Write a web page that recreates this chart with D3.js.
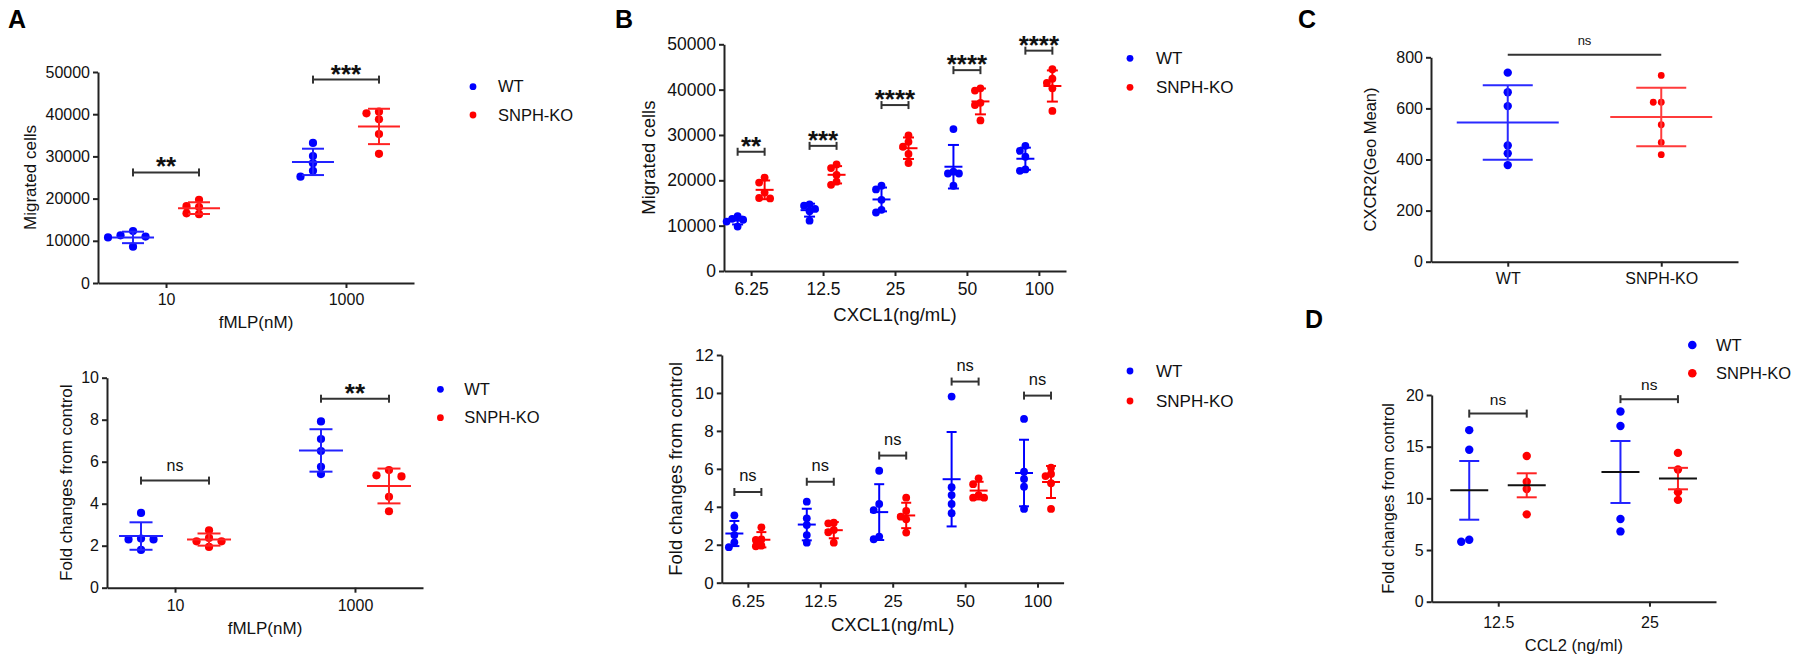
<!DOCTYPE html>
<html><head><meta charset="utf-8">
<script src="https://cdn.jsdelivr.net/npm/d3@7"></script>
<style>body{margin:0;background:#fff}svg{display:block}</style>
</head><body><svg id="c" width="1800" height="664"></svg>
<script>
// ---------------- DATA ----------------
const seriesNames = ["WT", "SNPH-KO"];

// Panel A (fMLP)
const fmlpDoses = ["10", "1000"];
const aMigWT = [[12300, 11300, 10800, 11000, 8600], [33200, 30100, 28400, 26600, 25200]];
const aMigKO = [[19700, 18000, 18200, 16300, 16500], [40600, 40200, 38800, 35300, 30600]];
const aMigSig = ["**", "***"];
const aMigSigY = [26200, 48200];
const aFoldWT = [[3.56, 2.34, 2.30, 2.30, 1.80], [7.92, 7.08, 6.51, 5.76, 5.41]];
const aFoldKO = [[2.73, 2.37, 2.21, 2.21, 1.94], [5.35, 5.60, 5.30, 4.33, 3.64]];
const aFoldSig = ["ns", "**"];
const aFoldSigY = [5.1, 9.0];

// Panel B (CXCL1)
const cxcl1Doses = ["6.25", "12.5", "25", "50", "100"];
const bMigWT = [[12100, 11500, 11300, 10900, 9800], [14400, 14700, 13700, 13200, 11100],
  [18800, 18000, 15700, 12900, 13500], [31300, 21900, 21500, 21500, 18800], [27600, 26500, 25200, 22100, 22400]];
const bMigKO = [[20600, 19500, 17300, 16100, 16000], [23500, 22700, 21200, 19000, 19700],
  [29900, 28500, 27400, 25800, 23800], [40300, 39800, 37100, 36600, 33200], [44500, 41500, 42400, 40300, 35300]];
const bMigSig = ["**", "***", "****", "****", "****"];
const bMigSigY = [26300, 27600, 36600, 44300, 48600];
const bFoldWT = [[3.55, 2.90, 2.51, 2.13, 1.87], [4.27, 3.39, 3.04, 2.51, 2.11],
  [5.90, 4.15, 3.83, 2.43, 2.29], [9.81, 5.03, 4.62, 4.15, 3.66], [8.63, 5.85, 5.47, 5.06, 3.89]];
const bFoldKO = [[2.92, 2.28, 2.25, 1.95, 1.92], [3.16, 3.13, 2.78, 2.66, 2.11],
  [4.48, 3.78, 3.48, 3.34, 2.64], [5.50, 5.19, 4.48, 4.48, 4.62], [6.06, 5.73, 5.62, 5.24, 3.89]];
const bFoldSig = ["ns", "ns", "ns", "ns", "ns"];
const bFoldSigY = [4.78, 5.32, 6.7, 10.6, 9.86];

// Panel C (CXCR2)
const cGroups = ["WT", "SNPH-KO"];
const cWT = [740, 663, 609, 455, 424, 378];
const cKO = [729, 624, 624, 536, 467, 419];
const cSig = ["ns"];
const cSigY = [810];

// Panel D (CCL2)
const ccl2Doses = ["12.5", "25"];
const dWT = [[16.6, 14.7, 5.8, 6.0], [18.4, 17.0, 8.0, 6.8]];
const dKO = [[14.1, 11.6, 10.9, 8.45], [14.4, 12.8, 9.85, 10.6]];
const dSig = ["ns", "ns"];
const dSigY = [18.2, 19.6];

// ---------------- DRAWING ----------------
const FONT = 'Arial, "Liberation Sans", sans-serif';
const BLUE = "#0000ff", RED = "#ff0000", INK = "#222";
const svg = d3.select("#c");

function swarm(ys, cx, r, d) {
  const order = ys.map((v, i) => i).sort((a, b) => ys[a] - ys[b]);
  const placed = [], out = new Array(ys.length), thr = 1.6 * r;
  order.forEach(i => {
    for (let k = 0; k < 30; k++) {
      const slot = k === 0 ? 0 : (k % 2 ? -Math.ceil(k / 2) : Math.ceil(k / 2));
      if (placed.every(p => p.slot !== slot || Math.abs(p.y - ys[i]) >= thr)) {
        placed.push({slot, y: ys[i]}); out[i] = {x: cx + slot * d, y: ys[i]}; break;
      }
    }
  });
  return out;
}

function ln(g, x1, y1, x2, y2, c, w) {
  g.append("line").attr("x1", x1).attr("y1", y1).attr("x2", x2).attr("y2", y2)
    .attr("stroke", c).attr("stroke-width", w || 2);
}
function txt(g, x, y, s, size, opts) {
  opts = opts || {};
  const t = g.append("text").attr("x", x).attr("y", y).text(s)
    .attr("font-family", FONT).attr("font-size", size).attr("fill", opts.fill || "#111")
    .attr("text-anchor", opts.anchor || "middle");
  if (opts.dy) t.attr("dy", opts.dy);
  if (opts.weight) t.attr("font-weight", opts.weight);
  if (opts.rotate) t.attr("transform", `rotate(-90,${x},${y})`);
  return t;
}

function drawPanel(o) {
  const g = svg.append("g");
  const x = d3.scalePoint().domain(o.cats).range([o.xa, o.xb]).padding(o.pad);
  const y = d3.scaleLinear().domain([0, o.max]).range([o.y0, o.y1]);
  const ya = d3.axisLeft(y).tickValues(d3.range(0, o.max + o.step / 2, o.step))
    .tickFormat(d3.format("d")).tickSize(5).tickSizeOuter(0).tickPadding(3);
  const gy = g.append("g").attr("transform", `translate(${o.xa},0)`).call(ya);
  const xax = d3.axisBottom(x).tickSize(5).tickSizeOuter(0).tickPadding(o.padX);
  const gx = g.append("g").attr("transform", `translate(0,${o.y0})`).call(xax);
  [gy, gx].forEach(a => {
    a.attr("font-family", FONT);
    a.selectAll("path,line").attr("stroke", INK).attr("stroke-width", 2);
    a.selectAll("text").attr("font-size", o.tick).attr("fill", "#111").attr("font-family", FONT);
  });

  // points + error bars
  o.series.forEach((s, si) => {
    o.cats.forEach((c, ci) => {
      const vals = s.vals[ci];
      if (!vals) return;
      const cx = x(c) + o.off[si];
      const m = d3.mean(vals), sd = d3.deviation(vals);
      const e = o.sem ? sd / Math.sqrt(vals.length) : sd;
      const pts = swarm(vals.map(v => y(v)), cx, s.r, o.spread);
      g.append("g").selectAll("circle").data(pts).join("circle")
        .attr("cx", d => d.x).attr("cy", d => d.y).attr("r", s.r).attr("fill", s.color);
      const bc = s.bar || s.color;
      ln(g, cx, y(m + e), cx, y(m - e), bc, 2);
      ln(g, cx - o.capHalf, y(m + e), cx + o.capHalf, y(m + e), bc, 2);
      ln(g, cx - o.capHalf, y(m - e), cx + o.capHalf, y(m - e), bc, 2);
      ln(g, cx - o.meanHalf, y(m), cx + o.meanHalf, y(m), o.meanColor || bc, 2);
    });
  });

  // significance brackets
  o.sig.forEach((lab, ci) => {
    let x1, x2;
    if (o.sigSpan) { x1 = x(o.cats[0]); x2 = x(o.cats[1]); }
    else { x1 = x(o.cats[ci]) + o.off[0]; x2 = x(o.cats[ci]) + o.off[1]; }
    const yy = y(o.sigY[ci]);
    ln(g, x1, yy, x2, yy, "#333", 2);
    if (o.sigCaps) { ln(g, x1, yy - 4, x1, yy + 4, "#333", 2); ln(g, x2, yy - 4, x2, yy + 4, "#333", 2); }
    if (lab === "ns") txt(g, (x1 + x2) / 2, yy + o.nsDy, lab, o.nsSize);
    else txt(g, (x1 + x2) / 2, yy + o.starDy, lab, o.starSize, {fill: "#111", weight: "bold"});
  });

  // titles
  if (o.xTitle) txt(g, (o.xa + o.xb) / 2, o.xTitleY, o.xTitle, o.titleSize, {dy: "0.35em"});
  txt(g, o.yTitleX, (o.y0 + o.y1) / 2, o.yTitle, o.titleSize, {dy: "0.35em", rotate: true});

  // legend
  if (o.legend) {
    const L = o.legend;
    o.series.forEach((s, si) => {
      g.append("circle").attr("cx", L.x).attr("cy", L.ys[si]).attr("r", L.r).attr("fill", s.color);
      txt(g, L.tx, L.ys[si], seriesNames[si], L.size, {anchor: "start", dy: "0.35em"});
    });
  }
}

function label(s, x, y) { txt(svg, x, y, s, 25, {anchor: "start", weight: "bold", fill: "#000"}); }

// Panel A top
drawPanel({cats: fmlpDoses, xa: 98, xb: 414, y0: 283, y1: 72, max: 50000, step: 10000, pad: 0.378,
  tick: 16, padX: 6, off: [-33, 33], spread: 12.5, meanHalf: 21, capHalf: 11,
  series: [{vals: aMigWT, color: BLUE, bar: "#2222ff", r: 4.1}, {vals: aMigKO, color: RED, bar: "#ff2222", r: 4.1}],
  sig: aMigSig, sigY: aMigSigY, sigCaps: true, starDy: 3, starSize: 26, nsDy: -10, nsSize: 16,
  xTitle: "fMLP(nM)", xTitleY: 322, yTitle: "Migrated cells", yTitleX: 30, titleSize: 17,
  legend: {x: 473, ys: [86.7, 115], r: 3.4, tx: 498, size: 16.5}});

// Panel A bottom
drawPanel({cats: fmlpDoses, xa: 107, xb: 423, y0: 587.7, y1: 377.7, max: 10, step: 2, pad: 0.378,
  tick: 16, padX: 6.5, off: [-34, 34], spread: 12.5, meanHalf: 22, capHalf: 11.5,
  series: [{vals: aFoldWT, color: BLUE, bar: "#2222ff", r: 4.1}, {vals: aFoldKO, color: RED, bar: "#ff2222", r: 4.1}],
  sig: aFoldSig, sigY: aFoldSigY, sigCaps: true, starDy: 3, starSize: 26, nsDy: -10, nsSize: 16,
  xTitle: "fMLP(nM)", xTitleY: 627.7, yTitle: "Fold changes from control", yTitleX: 66, titleSize: 17,
  legend: {x: 440.4, ys: [389.3, 417.7], r: 3.4, tx: 464.3, size: 16.5}});

// Panel B top
drawPanel({cats: cxcl1Doses, xa: 724, xb: 1066, y0: 271, y1: 44.3, max: 50000, step: 10000, pad: 0.377,
  tick: 17.5, padX: 7, off: [-13.5, 13.5], spread: 5.5, meanHalf: 9, capHalf: 5.5,
  series: [{vals: bMigWT, color: BLUE, r: 3.9}, {vals: bMigKO, color: RED, r: 3.9}],
  sig: bMigSig, sigY: bMigSigY, sigCaps: true, starDy: 3, starSize: 26, nsDy: -10, nsSize: 16,
  xTitle: "CXCL1(ng/mL)", xTitleY: 315, yTitle: "Migrated cells", yTitleX: 649, titleSize: 18.5,
  legend: {x: 1130, ys: [58.3, 87.3], r: 3.4, tx: 1156, size: 17}});

// Panel B bottom
drawPanel({cats: cxcl1Doses, xa: 721.8, xb: 1063.6, y0: 582.7, y1: 355, max: 12, step: 2, pad: 0.36,
  tick: 17, padX: 7.5, off: [-13.5, 13.5], spread: 5.5, meanHalf: 9, capHalf: 5,
  series: [{vals: bFoldWT, color: BLUE, r: 3.9}, {vals: bFoldKO, color: RED, r: 3.9}],
  sig: bFoldSig, sigY: bFoldSigY, sigCaps: true, starDy: 3, starSize: 26, nsDy: -11, nsSize: 16.5,
  xTitle: "CXCL1(ng/mL)", xTitleY: 625, yTitle: "Fold changes from control", yTitleX: 676, titleSize: 18.5,
  legend: {x: 1130, ys: [371, 401], r: 3.4, tx: 1156, size: 17}});

// Panel C
drawPanel({cats: cGroups, xa: 1431, xb: 1738, y0: 261.7, y1: 57.3, max: 800, step: 200, pad: 0.5,
  tick: 16, padX: 5.5, off: [0, 0], spread: 8, meanHalf: 51, capHalf: 25,
  series: [{vals: [cWT, null], color: BLUE, bar: "#2a2aff", r: 4.2}, {vals: [null, cKO], color: RED, bar: "#ff3b3b", r: 3.4}],
  sig: cSig, sigY: cSigY, sigSpan: true, sigCaps: false, starDy: 3, starSize: 26, nsDy: -9.6, nsSize: 13,
  yTitle: "CXCR2(Geo Mean)", yTitleX: 1370, titleSize: 16.5});

// Panel D
drawPanel({cats: ccl2Doses, xa: 1431.7, xb: 1716, y0: 601.7, y1: 395, max: 20, step: 5, pad: 0.44,
  tick: 16, padX: 10, off: [-29, 28.5], spread: 8, meanHalf: 19, capHalf: 10, sem: true, meanColor: "#111",
  series: [{vals: dWT, color: BLUE, bar: "#2222ff", r: 4.2}, {vals: dKO, color: RED, bar: "#ff2222", r: 4.2}],
  sig: dSig, sigY: dSigY, sigCaps: true, starDy: 3, starSize: 26, nsDy: -9, nsSize: 15.5,
  xTitle: "CCL2 (ng/ml)", xTitleY: 645, yTitle: "Fold changes from control", yTitleX: 1388, titleSize: 16.5,
  legend: {x: 1692.3, ys: [345, 373.3], r: 4.3, tx: 1716, size: 16.5}});

label("A", 8, 28);
label("B", 615, 28);
label("C", 1298, 28);
label("D", 1305, 328);
</script>
</body></html>
